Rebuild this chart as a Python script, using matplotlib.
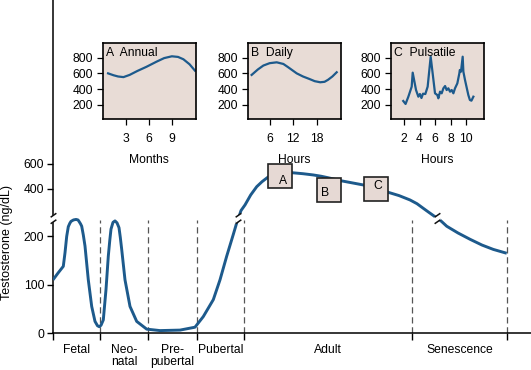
import numpy as np
import matplotlib
matplotlib.use("Agg")
import matplotlib.pyplot as plt
from matplotlib.path import Path

plt.rcParams['font.family'] = ['Liberation Sans', 'DejaVu Sans']
plt.rcParams['font.size'] = 8.7

# ---------------- data ----------------
stage_labels = ["Fetal", "Neo-\nnatal", "Pre-\npubertal", "Pubertal", "Adult", "Senescence"]
stage_bounds = [0, 47, 94.7, 143.7, 191.3, 359.3, 454.3]
x_max = 478

# life-course testosterone curve (ng/dL), three drawn pieces around the axis break
low1_x = [0, 5, 10.3, 12, 13.7, 15.3, 16.8, 18, 20.5, 23, 25, 26, 27.5, 28.7, 30.3, 32, 35.3,
          38.7, 42, 44.5, 46.3, 48, 50.3, 53, 55.3, 56.8, 58, 60, 62, 64, 66, 67.3, 68.7, 72,
          77, 83.7, 93.7, 107, 127, 142, 150.3, 160.3, 167, 173.7, 180.3, 184.3, 185.5]
low1_y = [110, 124, 138, 166, 200, 220, 227, 231, 234, 235, 234, 231, 226, 221, 203, 180, 110,
          55, 24, 15, 13, 16, 27, 90, 159, 192, 215, 229, 232, 228, 218, 198, 173, 110,
          55, 24, 8, 5, 6, 12, 34, 69, 110, 159, 204, 232, 238]
up_x = [185.5, 188, 192, 197.7, 203.7, 209, 214.7, 221, 227, 233, 239, 250, 260.3, 268, 275,
        282, 287.7, 299, 310.3, 317, 323, 330, 335.3, 346, 357, 364, 370.3, 376, 382, 384.5]
up_y = [165.6, 225, 270, 350, 416, 456, 491, 515, 527, 530, 528, 520, 510, 500, 488,
        475, 464, 447, 430, 420, 405, 390, 371, 345, 310, 280, 243, 210, 176, 165.6]
low2_x = [384.5, 389, 393.7, 405, 417, 429, 440.3, 453.7]
low2_y = [238, 230, 221, 207, 194, 182, 173, 165]

low_ylim = (0, 238)
up_ylim = (165.6, 1910)
low_ticks = [0, 100, 200]
up_ticks = [400, 600]

box_x = [227, 275.7, 323.3]
box_y = [498, 392, 395]
box_labels = ["A", "B", "C"]

annual_month = [0.7, 1.4, 2.0, 2.7, 3.5, 4.5, 5.7, 7.0, 8.0, 9.0, 9.8, 10.5, 11.3, 12.0]
annual_val = [600, 576, 560, 552, 580, 630, 684, 749, 795, 818, 810, 780, 716, 635]

daily_hour = [1.4, 3.0, 4.4, 6.0, 7.8, 9.5, 10.7, 12.9, 14.5, 16.2, 17.5, 18.9, 20.0, 20.9, 22.0, 23.1]
daily_val = [580, 650, 700, 730, 741, 720, 679, 600, 560, 527, 500, 486, 492, 518, 560, 614]

puls_hour = [1.9, 2.2, 2.56, 2.99, 3.12, 3.55, 3.85, 4.05, 4.25, 4.45, 4.75, 5.05, 5.44,
             6.0, 6.3, 6.43, 6.65, 6.86, 7.08, 7.3, 7.5, 7.72, 7.94, 8.15, 8.37, 8.58,
             8.88, 9.14, 9.2, 9.35, 9.57, 9.66, 9.87, 10.3, 10.5, 10.7, 10.95]
puls_val = [247, 209, 302, 430, 609, 387, 302, 336, 285, 340, 336, 430, 813,
            345, 323, 281, 366, 345, 409, 438, 387, 409, 366, 387, 345, 409,
            472, 600, 643, 621, 813, 621, 515, 323, 260, 251, 302]

inset_titles = ["A  Annual", "B  Daily", "C  Pulsatile"]
inset_xlabels = ["Months", "Hours", "Hours"]
inset_xticks = [[3, 6, 9], [6, 12, 18], [2, 4, 6, 8, 10]]
inset_xlims = [(0, 12.1), (0.4, 24.2), (0.32, 12.36)]
inset_yticks = [200, 400, 600, 800]
inset_ylim = (13, 984)

# ---------------- style ----------------
curve_c = '#1d5a8c'
inset_bg = '#e8dcd6'
box_fc = '#e6d9d4'
W, H = 531, 370

def rect(x0, y0, x1, y1):
    return [x0 / W, 1 - y1 / H, (x1 - x0) / W, (y1 - y0) / H]

fig = plt.figure(figsize=(W / 100, H / 100), dpi=100)

ax_low = fig.add_axes(rect(53, 218, 531, 333))
ax_up = fig.add_axes(rect(53, 0, 531, 218), sharex=ax_low)
for a in (ax_low, ax_up):
    a.set_facecolor('none')
    for sp in ('top', 'right'):
        a.spines[sp].set_visible(False)
    a.spines['left'].set_linewidth(1.1)
ax_up.spines['bottom'].set_visible(False)
ax_low.spines['bottom'].set_linewidth(1.1)

ax_low.set_xlim(0, x_max)
ax_low.set_ylim(*low_ylim)
ax_up.set_ylim(*up_ylim)

ax_low.set_yticks(low_ticks)
ax_up.set_yticks(up_ticks)
for a in (ax_low, ax_up):
    a.tick_params(axis='y', direction='out', length=4.3, width=1, pad=2, labelsize=8.7)
ax_up.tick_params(axis='x', which='both', bottom=False, labelbottom=False)

mids = [(stage_bounds[i] + stage_bounds[i + 1]) / 2 for i in range(len(stage_labels))]
ax_low.set_xticks(stage_bounds)
ax_low.set_xticklabels([])
ax_low.set_xticks(mids, stage_labels, minor=True)
ax_low.tick_params(axis='x', which='major', direction='out', length=5, width=1)
ax_low.tick_params(axis='x', which='minor', length=0, pad=8, labelsize=8.7)
for t in ax_low.get_xticklabels(minor=True):
    t.set_linespacing(1.0)

ax_low.vlines(stage_bounds[1:], 0, 234, colors='#555555', linestyles=(0, (5, 3)), linewidth=0.9)

ax_low.plot(low1_x, low1_y, color=curve_c, lw=2.1, solid_capstyle='butt',
            solid_joinstyle='round', zorder=3)
ax_low.plot(low2_x, low2_y, color=curve_c, lw=2.1, solid_capstyle='butt',
            solid_joinstyle='round', zorder=3)
ax_up.plot(up_x, up_y, color=curve_c, lw=2.1, solid_capstyle='butt',
           solid_joinstyle='round', zorder=3)

ax_low.set_ylabel("Testosterone (ng/dL)", fontsize=9)
ax_low.yaxis.set_label_coords(-0.083, 0.79)

# boxes A, B, C on the adult curve
ax_up.plot(box_x, box_y, ls='none', marker='s', markersize=17.3, markerfacecolor=box_fc,
           markeredgecolor='#222222', markeredgewidth=1.2, zorder=6)
offs = [(2.2, -3.6), (-2.7, -2.2), (1.4, 2.6)]
for x, y, lab, o in zip(box_x, box_y, box_labels, offs):
    ax_up.annotate(lab, (x, y), xytext=o, textcoords='offset points', ha='center', va='center',
                   fontsize=8.7, zorder=7)

# axis-break markers
c = 2.87
line_path = Path([(-c, 1.25), (c, 5.25), (-c, -5.25), (c, -1.25)],
                 [Path.MOVETO, Path.LINETO, Path.MOVETO, Path.LINETO])
gap_path = Path([(-c, 1.25), (c, 5.25), (c, -1.25), (-c, -5.25), (-c, 1.25)],
                [Path.MOVETO, Path.LINETO, Path.LINETO, Path.LINETO, Path.CLOSEPOLY])
brk_x = [0, up_x[0], up_x[-1]]
brk_y = [up_ylim[0]] * 3
ax_up.plot(brk_x, brk_y, ls='none', marker=gap_path, markersize=7.56, markerfacecolor='white',
           markeredgecolor='white', markeredgewidth=0.3, clip_on=False, zorder=8)
ax_up.plot(brk_x, brk_y, ls='none', marker=line_path, markersize=7.56, markerfacecolor='none',
           markeredgecolor='#111111', markeredgewidth=1.1, clip_on=False, zorder=9)

# insets
inset_rects = [rect(102.7, 43.3, 195.7, 119.3), rect(247.7, 43.3, 341, 119.3),
               rect(391, 43.3, 484.3, 119.3)]
inset_data = [(annual_month, annual_val), (daily_hour, daily_val), (puls_hour, puls_val)]
for r, (xs, ys), title, xl, xt, xlim in zip(inset_rects, inset_data, inset_titles,
                                            inset_xlabels, inset_xticks, inset_xlims):
    ia = fig.add_axes(r)
    ia.set_facecolor(inset_bg)
    ia.plot(xs, ys, color=curve_c, lw=1.6, solid_joinstyle='round')
    ia.set_xlim(*xlim)
    ia.set_ylim(*inset_ylim)
    ia.set_xticks(xt)
    ia.set_yticks(inset_yticks)
    ia.tick_params(axis='x', direction='out', length=4, width=0.9, pad=6, labelsize=8.7)
    ia.tick_params(axis='y', direction='out', length=4, width=0.9, pad=3, labelsize=8.7)
    for sp in ia.spines.values():
        sp.set_linewidth(1.2)
    ia.set_xlabel(xl, fontsize=8.7, labelpad=6)
    ia.text(0.035, 0.95, title, transform=ia.transAxes, ha='left', va='top', fontsize=8.7)

fig.savefig("out.png", dpi=100)
